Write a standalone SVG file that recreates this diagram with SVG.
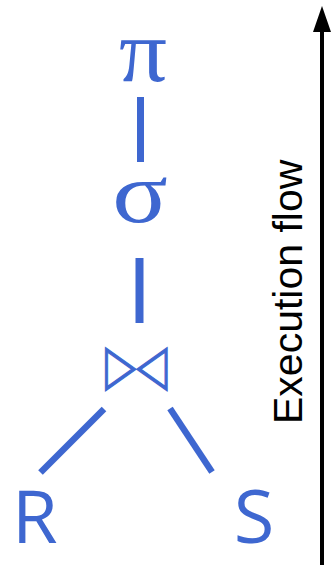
<svg xmlns="http://www.w3.org/2000/svg" width="331" height="565" viewBox="0 0 331 565">
<style>
.op{fill:#3E67D0;font-family:"Liberation Serif","DejaVu Serif",serif;text-anchor:middle}
.rel{fill:#3E67D0;font-family:"Open Sans","Liberation Sans",sans-serif;font-size:74px}
.edge{stroke:#3E67D0;fill:none;stroke-linecap:butt}
.flow{fill:#000;font-family:"Liberation Sans","Open Sans",sans-serif;font-size:41px}
</style>
<rect width="331" height="565" fill="#fff"/>
<g id="connectors">
<line class="edge" x1="140.5" y1="97" x2="140.5" y2="162" stroke-width="7"/>
<line class="edge" x1="139.5" y1="258" x2="139.5" y2="323" stroke-width="8"/>
<line class="edge" x1="104" y1="409" x2="40.5" y2="472.5" stroke-width="6.5"/>
<line class="edge" x1="170" y1="408.5" x2="212" y2="472" stroke-width="6.5"/>
</g>
<g id="pi"><text class="op" transform="translate(143,81) scale(1.08,1)" font-size="88">π</text></g>
<g id="sigma"><text class="op" transform="translate(140,222) scale(1.2,1)" font-size="86">σ</text></g>
<g id="join"><text transform="translate(105.3,384.3) scale(0.705,1)" fill="#3E67D0" stroke="#3E67D0" stroke-width="1.2" font-family="DejaVu Sans,sans-serif" font-size="57">▷◁</text></g>
<g id="R"><text class="rel" x="12" y="543">R</text></g>
<g id="S"><text class="rel" x="254" y="543" text-anchor="middle">S</text></g>
<g id="flow-arrow">
<line x1="322" y1="30" x2="322" y2="565" stroke="#000" stroke-width="4"/>
<polygon points="322,6 331,32 313,32" fill="#000"/>
<text class="flow" transform="translate(302,424) rotate(-90)">Execution flow</text>
</g>
</svg>
